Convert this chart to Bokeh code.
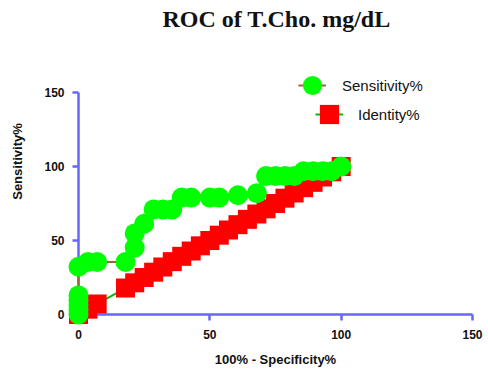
from bokeh.plotting import figure
from bokeh.models import Range1d, Legend, LegendItem, Label
from bokeh.embed import file_html
from bokeh.resources import INLINE

# ROC data: 100% - Specificity% (x) and Sensitivity% (y)
fpr = [0, 0, 0, 0, 0, 0, 3.6, 7.1, 17.9, 21.4, 21.4, 25.0, 28.6, 32.1, 35.7,
       39.3, 42.9, 50.0, 53.6, 60.7, 67.9, 71.4, 75.0, 78.6, 82.1, 85.7,
       89.3, 92.9, 96.4, 100]
sensitivity = [0, 3.2, 6.5, 9.7, 12.9, 32.3, 35.5, 35.5, 35.5, 45.2, 54.8,
               61.3, 71.0, 71.0, 71.0, 79.0, 79.0, 79.0, 79.0, 80.6, 82.0,
               93.5, 93.5, 93.5, 93.5, 96.8, 96.8, 96.8, 96.8, 100]
identity_x = [0, 3.6, 7.1, 17.9, 21.4, 25.0, 28.6, 32.1, 35.7, 39.3, 42.9,
              46.4, 50.0, 53.6, 57.1, 60.7, 64.3, 67.9, 71.4, 75.0, 78.6,
              82.1, 85.7, 89.3, 92.9, 96.4, 100]
identity_y = list(identity_x)
ticks = [0, 50, 100, 150]

title_text = "ROC of T.Cho. mg/dL"
x_title = "100% - Specificity%"
y_title = "Sensitivity%"
names = ["Sensitivity%", "Identity%"]

AXIS = "#6666ff"

p = figure(width=488, height=374, output_backend="svg", toolbar_location=None,
           x_range=Range1d(0, 150), y_range=Range1d(0, 206.76),
           min_border_left=78, min_border_right=16, min_border_top=8,
           min_border_bottom=60)
p.outline_line_color = None
p.grid.visible = False
p.background_fill_color = "white"
p.border_fill_color = "white"

xa = p.below[0]
ya = p.left[0]

for ax in (xa, ya):
    ax.ticker = ticks
    ax.bounds = (0, 150)
    ax.axis_line_color = AXIS
    ax.axis_line_width = 2.5
    ax.major_tick_line_color = AXIS
    ax.major_tick_line_width = 2.5
    ax.major_tick_in = 0
    ax.major_tick_out = 6
    ax.minor_tick_line_color = None
    ax.major_label_text_font = "Liberation Sans"
    ax.major_label_text_font_style = "bold"
    ax.major_label_text_font_size = "12px"
    ax.major_label_text_color = "#111111"
    ax.axis_label_text_font = "Liberation Sans"
    ax.axis_label_text_font_style = "bold"
    ax.axis_label_text_font_size = "13px"
    ax.axis_label_text_color = "#111111"
xa.major_label_standoff = 9
ya.major_label_standoff = 8
xa.axis_label = x_title
ya.axis_label = y_title
xa.axis_label_standoff = 10
ya.axis_label_standoff = 16

r_il = p.line(identity_x, identity_y, line_color="#00bb00", line_width=2, level="overlay")
r_is = p.scatter(identity_x, identity_y, marker="square", size=19,
                 fill_color="#ff0000", line_color=None, level="overlay")
r_sl = p.line(fpr, sensitivity, line_color="#996633", line_width=2, level="overlay")
r_sc = p.scatter(fpr, sensitivity, marker="circle", size=20,
                 fill_color="#00ff00", line_color=None, level="overlay")


def mk_legend(items, loc, gw, gh, standoff):
    return Legend(items=items, location=loc, glyph_width=gw, glyph_height=gh,
                  label_standoff=standoff, padding=0, margin=0, spacing=0,
                  border_line_color=None, background_fill_alpha=0,
                  label_text_font="Liberation Sans", label_text_font_size="15px",
                  label_text_color="#111111")

p.add_layout(mk_legend([LegendItem(label="", renderers=[r_sl])], (220, 219), 28, 20, 0), "center")
p.add_layout(mk_legend([LegendItem(label="", renderers=[r_il])], (237, 190), 28, 20, 0), "center")
p.add_layout(mk_legend([LegendItem(label=names[0], renderers=[r_sc])], (210, 205), 48, 48, 6), "center")
p.add_layout(mk_legend([LegendItem(label=names[1], renderers=[r_is])], (227, 176), 48, 48, 5), "center")

p.add_layout(Label(x=198, y=296, x_units="screen", y_units="screen", text=title_text,
                   text_align="center", text_baseline="alphabetic",
                   text_font="Liberation Serif", text_font_style="bold",
                   text_font_size="24px", text_color="#111111"))

open("out.html", "w").write(file_html(p, INLINE))
